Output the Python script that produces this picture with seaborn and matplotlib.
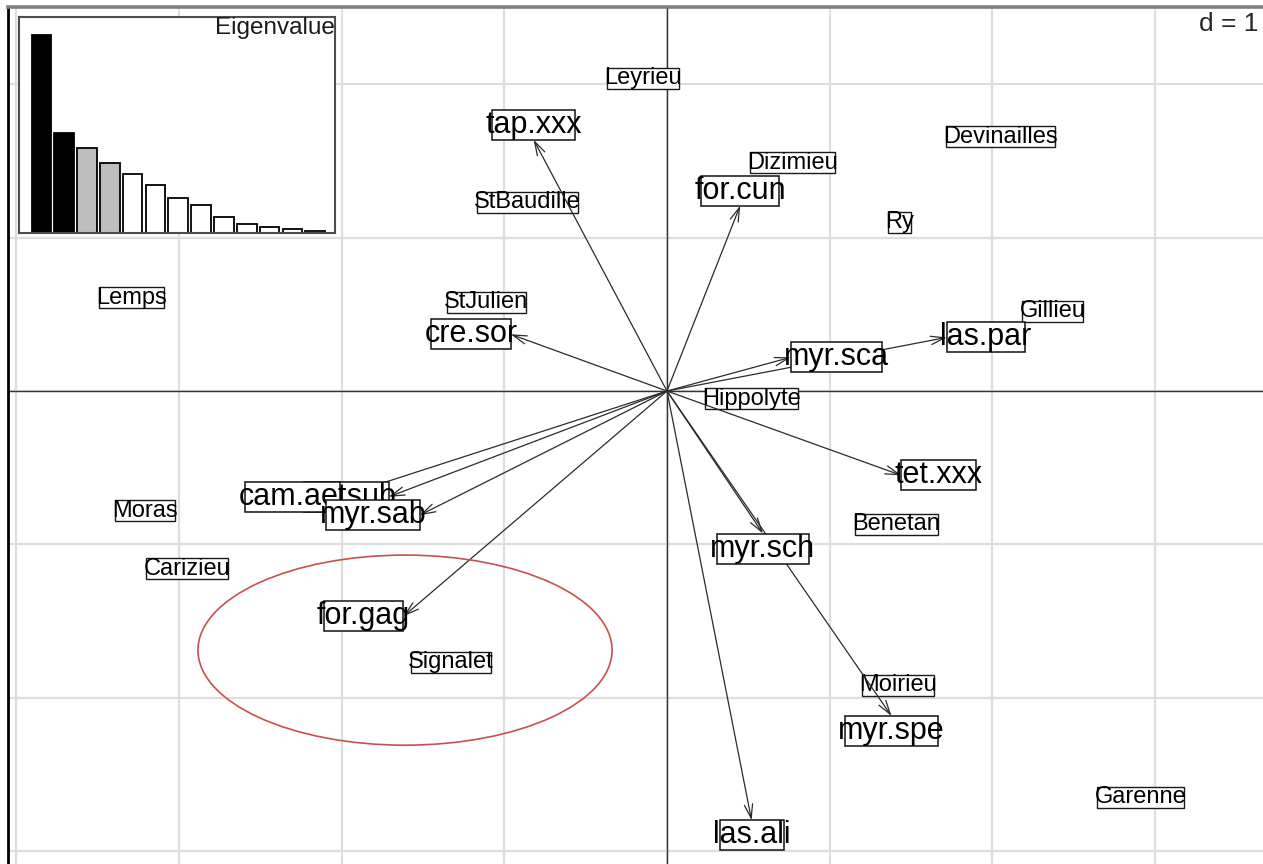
import matplotlib
matplotlib.use("Agg")
import matplotlib.pyplot as plt
from matplotlib.patches import Ellipse
from matplotlib.path import Path
import seaborn as sns
import pandas as pd

# Sites (row scores)
sites = ["Leyrieu", "Devinailles", "Dizimieu", "StBaudille", "Ry", "Lemps",
         "StJulien", "Gillieu", "Hippolyte", "Moras", "Benetan", "Carizieu",
         "Signalet", "Moirieu", "Garenne"]
site_x = [-0.15, 2.05, 0.77, -0.86, 1.43, -3.29, -1.11, 2.37, 0.52, -3.21,
          1.41, -2.95, -1.33, 1.42, 2.91]
site_y = [2.04, 1.66, 1.49, 1.23, 1.10, 0.61, 0.58, 0.52, -0.05, -0.78,
          -0.87, -1.16, -1.77, -1.92, -2.65]

# Species (column scores, drawn as arrows)
species = ["tap.xxx", "for.cun", "cre.sor", "myr.sca", "las.par", "tet.xxx",
           "myr.sch", "myr.spe", "las.ali", "for.gag", "lep.sub", "cam.aet",
           "myr.sab"]
spec_x = [-0.82, 0.45, -0.96, 0.76, 1.72, 1.44, 0.59, 1.38, 0.52, -1.62,
          -1.71, -2.01, -1.52]
spec_y = [1.64, 1.21, 0.37, 0.22, 0.35, -0.55, -0.93, -2.12, -2.80, -1.47,
          -0.69, -0.69, -0.81]

# Eigenvalues of the analysis
eigenvalues = [3.95, 1.99, 1.69, 1.39, 1.17, 0.95, 0.69, 0.55, 0.32, 0.17,
               0.11, 0.07, 0.03]
n_kept = 2      # axes shown in the plane
n_gray = 2      # next axes


def label_box(padx, pady):
    """Rectangular text box with separate horizontal / vertical padding
    (fractions of the font size; negative values tighten the box)."""
    def box(x0, y0, width, height, mutation_size):
        px = padx * mutation_size
        py = pady * mutation_size
        x1, y1 = x0 + width + px, y0 + height + py
        xa, ya = x0 - px, y0 - py
        return Path([(xa, ya), (x1, ya), (x1, y1), (xa, y1), (xa, ya)],
                    closed=True)
    return box


sns.set_theme(style="white")
plt.rcParams["font.family"] = ["Liberation Sans", "DejaVu Sans"]

W, H = 1263, 864
fig = plt.figure(figsize=(W / 100, H / 100), dpi=100)
ax = fig.add_axes([8 / W, 0, 1 - 8 / W, 1 - 7 / H])
ax.set_xlim(-4.05, 3.663)
ax.set_ylim(-3.085, 2.505)

# grid with unit spacing (d = 1)
ax.set_xticks(range(-4, 4))
ax.set_yticks(range(-3, 3))
ax.tick_params(length=0, labelbottom=False, labelleft=False)
ax.grid(True, color="#DEDEDE", lw=1.6)
ax.set_axisbelow(True)
ax.axhline(0, color="#333333", lw=1.0, zorder=1)
ax.axvline(0, color="#333333", lw=1.0, zorder=1)

for side in ["right", "bottom"]:
    ax.spines[side].set_visible(False)
ax.spines["left"].set_color("black")
ax.spines["left"].set_linewidth(2.0)
ax.spines["top"].set_color("#808080")
ax.spines["top"].set_linewidth(2.6)

# site labels
for name, x, y in zip(sites, site_x, site_y):
    ax.text(x, y, name, ha="center", va="center", fontsize=17, color="black",
            bbox=dict(boxstyle=label_box(-0.12, -0.02), fc="white",
                      ec="#1a1a1a", lw=1.0),
            zorder=3)

# arrows from the origin
for x, y in zip(spec_x, spec_y):
    ax.annotate("", xy=(x, y), xytext=(0, 0),
                arrowprops=dict(arrowstyle="->,head_length=0.5,head_width=0.15",
                                mutation_scale=20, lw=0.9, color="#2b2b2b",
                                shrinkA=0, shrinkB=0),
                zorder=4)

# species labels placed outside the arrow tips; the box edge touches the tip
spec_size = 22
spec_padx = -0.22
shift = -spec_padx * spec_size   # points
for i, (name, x, y) in enumerate(zip(species, spec_x, spec_y)):
    if x > y and x > -y:
        ha, va, off = "left", "center", (-shift, 0)
    elif x > y and x <= -y:
        ha, va, off = "center", "top", (0, 0)
    elif x <= y and x <= -y:
        ha, va, off = "right", "center", (shift, 0)
    else:
        ha, va, off = "center", "bottom", (0, 0)
    ax.annotate(name, xy=(x, y), xytext=off, textcoords="offset points",
                ha=ha, va=va, fontsize=spec_size, color="black",
                bbox=dict(boxstyle=label_box(spec_padx, 0.0), fc="white",
                          ec="#111111", lw=1.1),
                zorder=5 + i * 0.01)

# highlighted group
ax.add_patch(Ellipse((-1.61, -1.69), 2.545, 1.24, fill=False,
                     ec="#C8504D", lw=1.2, zorder=6))

fig.text(1199 / W, 1 - 24 / H, "d = 1", ha="left", va="center", fontsize=19)

# eigenvalue inset
axin = fig.add_axes([19.3 / W, 1 - 232.7 / H, 315.7 / W, 215.4 / H])
axin.set_zorder(10)
axin.set_facecolor("white")
ranks = [str(i + 1) for i in range(len(eigenvalues))]
colors = ["black" if i < n_kept else ("#BEBEBE" if i < n_kept + n_gray else "white")
          for i in range(len(eigenvalues))]
eig_df = pd.DataFrame({"rank": ranks, "eig": eigenvalues})
sns.barplot(data=eig_df, x="rank", y="eig", hue="rank", palette=colors,
            order=ranks, hue_order=ranks, width=0.86, edgecolor="black",
            linewidth=1.3, legend=False, saturation=1, ax=axin)
axin.set_xlim(-0.97, 12.87)
axin.set_ylim(0, eigenvalues[0] * 215.4 / 197.7)
axin.set_xticks([])
axin.set_yticks([])
axin.set_xlabel("")
axin.set_ylabel("")
axin.grid(False)
for s in axin.spines.values():
    s.set_visible(True)
    s.set_color("#4d4d4d")
    s.set_linewidth(1.5)
axin.text(1.0, 1.0, "Eigenvalue", transform=axin.transAxes, ha="right", va="top",
          fontsize=17.5, color="#1a1a1a")

fig.savefig("out.png", dpi=100)
